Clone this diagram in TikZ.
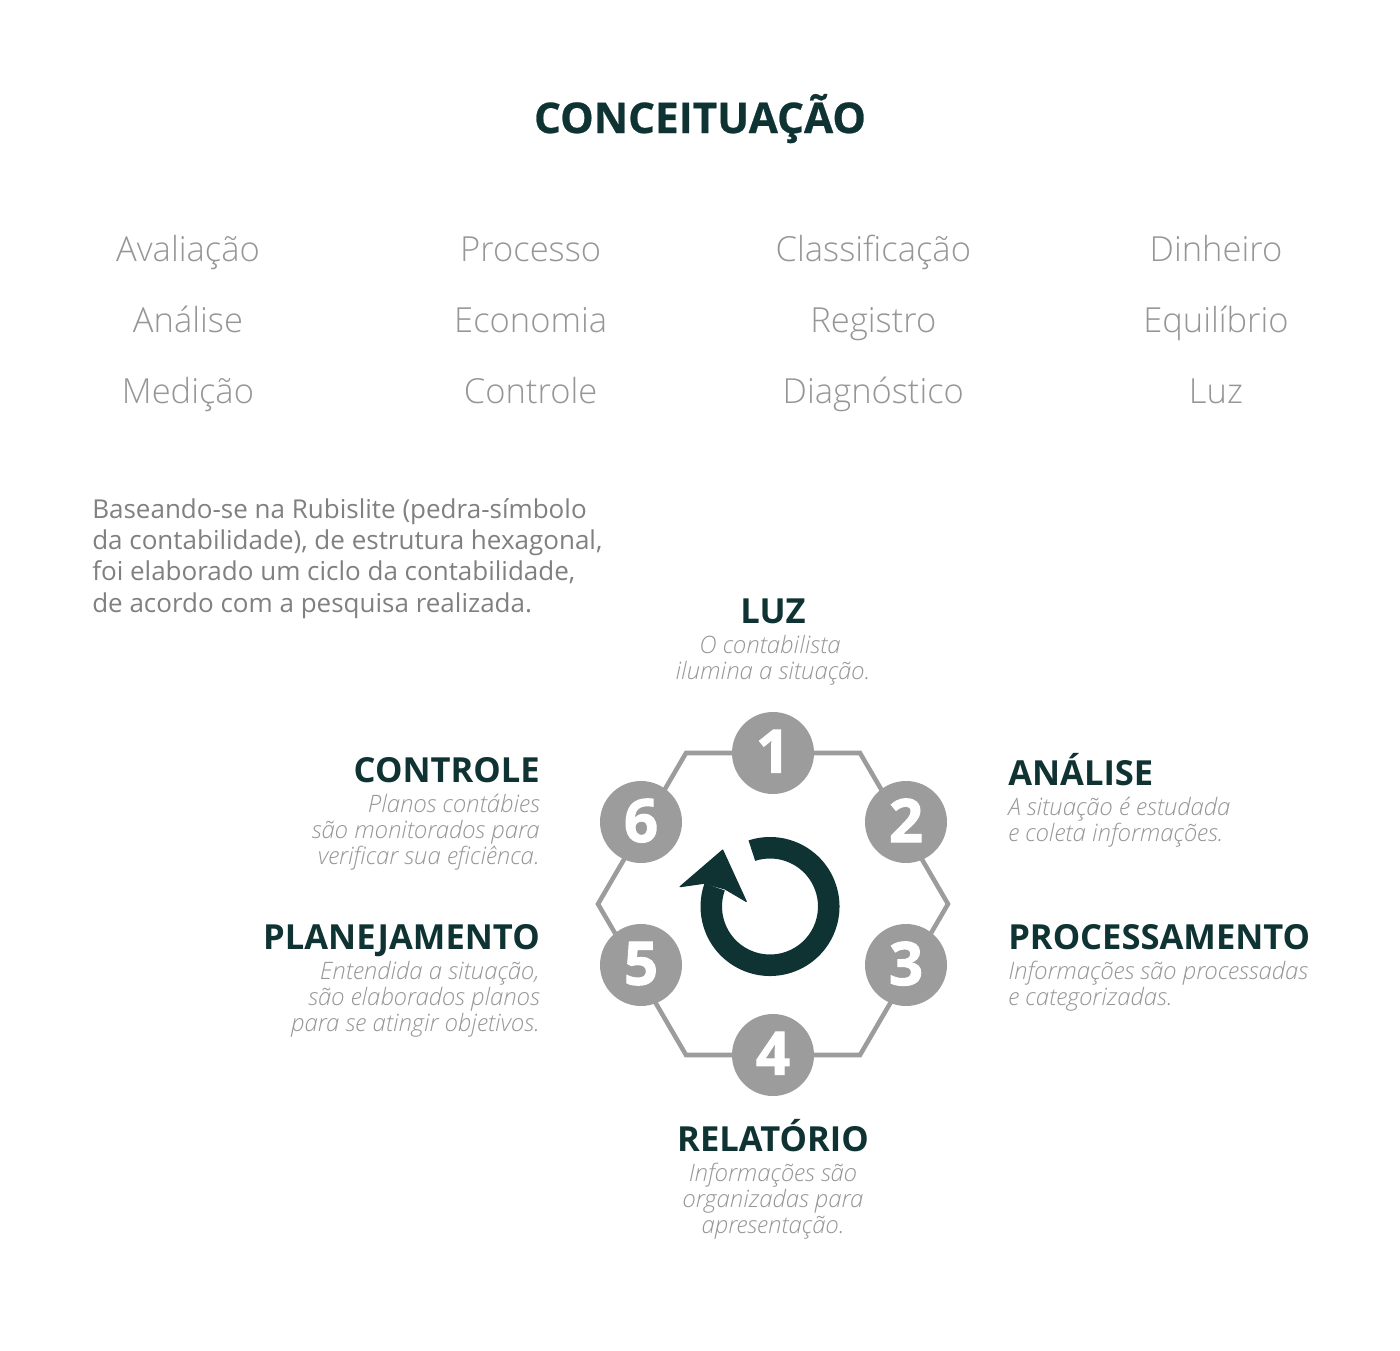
\documentclass[tikz,border=0pt]{standalone}
\usepackage{fontspec}
\usetikzlibrary{matrix,positioning}
\setmainfont{Open Sans}
\newfontfamily\lightfont{Open Sans Light}[ItalicFont={Open Sans Light Italic}]
\newfontfamily\heavyfont{Open Sans}[UprightFont={* Bold},FakeBold=1.6]
\newfontfamily\titlefont{Open Sans}[UprightFont={* Bold},FakeBold=0.6]
\definecolor{darkgreen}{HTML}{0F3332}
\definecolor{wordgray}{HTML}{969696}
\definecolor{bodygray}{HTML}{808080}
\definecolor{hexgray}{HTML}{9C9C9C}
\tikzset{
head/.style={
  inner sep=0pt,
  text=darkgreen,
  text depth=0pt,
  font=\fontsize{25.9pt}{30pt}\selectfont\bfseries
  },
desc/.style={
  inner sep=0pt,
  text=wordgray,
  font=\fontsize{18pt}{19.5pt}\selectfont\lightfont\itshape
  },
stepnum/.style={
  circle,
  fill=hexgray,
  text=white,
  inner sep=0pt,
  minimum size=61.5pt,
  font=\fontsize{45pt}{45pt}\selectfont\heavyfont
  }
}
\begin{document}
\begin{tikzpicture}[
    x=0.75pt,
    y=-0.75pt,
    words/.style={
      matrix of nodes,
      nodes={
        text=wordgray,
        inner sep=0pt,
        text width=257pt,
        align=center,
        text height=20pt,
        text depth=7pt,
        minimum height=53.25pt,
        font=\fontsize{25.9pt}{30pt}\selectfont\lightfont
      },
      column sep=0pt,
      row sep=0pt
    }
  ]
\useasboundingbox (0,0) rectangle (1400,1350);
\node[head,anchor=base,font=\fontsize{31.7pt}{36pt}\selectfont\titlefont] (title) at (700,133) {CONCEITUAÇÃO};
\matrix[words] (mat) at (702,324)
{
Avaliação & Processo & Classificação & Dinheiro \\
Análise & Economia & Registro & Equilíbrio \\
Medição & Controle & Diagnóstico & Luz \\
};
\node[anchor=north west,inner sep=0pt,text=bodygray,align=left,font=\fontsize{19.5pt}{23.5pt}\selectfont] (intro) at (92,498)
{Baseando-se na Rubislite (pedra-símbolo\\da contabilidade), de estrutura hexagonal,\\foi elaborado um ciclo da contabilidade,\\de acordo com a pesquisa realizada.};
% hexagon
\foreach \n/\px/\py in {1/686/753,2/860/753,3/948/904,4/860/1055,5/686/1055,6/598/904}
  \coordinate (c\n) at (\px,\py);
\draw[hexgray,line width=3.4pt,line join=miter] (c1) -- (c2) -- (c3) -- (c4) -- (c5) -- (c6) -- cycle;
\foreach \n/\px/\py in {1/773/753,2/906/822,3/906/965,4/773/1055,5/641/965,6/641/822}
  \node[stepnum] (n\n) at (\px,\py) {\raisebox{2.5pt}{\n}};
% loop icon
\coordinate (mid) at (770,906.5);
\fill[darkgreen] ([shift={(mid)}]252:69.5) arc[start angle=252,end angle=559.5,radius=69.5]
  -- ([shift={(mid)}]199.5:48) arc[start angle=559.5,end angle=252,radius=48] -- cycle;
\fill[darkgreen,draw=darkgreen,line width=0.8pt,line join=round] (722.7,850) -- (746.3,901.5) -- (725,889) -- (704,883.3) -- (680,886.7) -- cycle;
% labels
\node[head,anchor=base] (luz) at (773,623) {LUZ};
\node[desc,align=center,below=8.5pt of luz] (luzd) {O contabilista\hspace*{4.5pt}\\ilumina a situação.};
\node[head,anchor=base east] (ctrl) at (540,782) {CONTROLE};
\node[desc,align=right,below=8.5pt of ctrl.south east,anchor=north east] (ctrld) {Planos contábies\\são monitorados para\\verificar sua eficiênca.};
\node[head,anchor=base east] (plan) at (540,949) {PLANEJAMENTO};
\node[desc,align=right,below=8.5pt of plan.south east,anchor=north east] (pland) {Entendida a situação,\\são elaborados planos\\para se atingir objetivos.};
\node[head,anchor=base west] (anal) at (1008,785) {ANÁLISE};
\node[desc,align=left,below=8.5pt of anal.south west,anchor=north west] (anald) {A situação é estudada\\e coleta informações.};
\node[head,anchor=base west] (proc) at (1008,949) {PROCESSAMENTO};
\node[desc,align=left,below=8.5pt of proc.south west,anchor=north west] (procd) {Informações são processadas\\e categorizadas.};
\node[head,anchor=base] (rel) at (773,1151) {RELATÓRIO};
\node[desc,align=center,below=8.5pt of rel] (reld) {Informações são\\organizadas para\\apresentação.};
\end{tikzpicture}
\end{document}
